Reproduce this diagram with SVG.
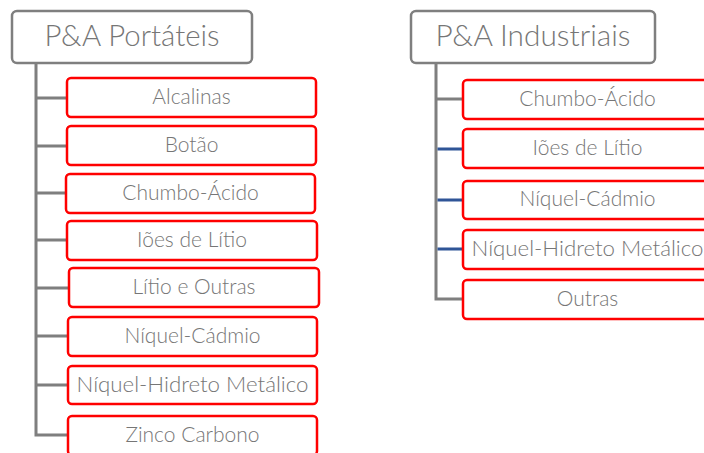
<svg xmlns="http://www.w3.org/2000/svg" width="704" height="453" viewBox="0 0 704 453">
<style>
.hdr rect{fill:#fff;stroke:#7f7f7f;stroke-width:2.5}
.hdr text{font-family:Lato,"Liberation Sans",Arial,sans-serif;font-size:29px;font-weight:300;fill:#767676;text-anchor:middle}
.item rect{fill:#fff;stroke:#ff0000;stroke-width:2.5}
.item text{font-family:Lato,"Liberation Sans",Arial,sans-serif;font-size:21px;font-weight:300;fill:#767676;text-anchor:middle}
.trunk{stroke:#7f7f7f;stroke-width:3;fill:none}
.g{stroke:#7f7f7f;stroke-width:3;fill:none}
.b{stroke:#2f5597;stroke-width:3;fill:none}
</style>
<g id="connectors">
<path class="trunk" d="M36,63 V435 H67"/>
<path class="g" d="M36,98 H67 M36,146 H67 M36,193 H66 M36,240 H67 M36,288 H69 M36,336 H68 M36,385 H68"/>
<path class="trunk" d="M436,63 V299 H463"/>
<path class="g" d="M436,99 H463"/>
<path class="b" d="M437.5,149 H463 M437.5,200 H463 M437.5,249 H463"/>
</g>
<g id="h1" class="hdr"><rect x="12" y="11" width="240" height="52" rx="5"/><text x="132" y="46" textLength="175" lengthAdjust="spacingAndGlyphs">P&amp;A Portáteis</text></g>
<g id="h2" class="hdr"><rect x="411" y="11" width="244" height="52" rx="5"/><text x="533" y="46" textLength="195" lengthAdjust="spacingAndGlyphs">P&amp;A Industriais</text></g>
<g id="l1" class="item"><rect x="67" y="78" width="249" height="39" rx="4"/><text x="191.5" y="104">Alcalinas</text></g>
<g id="l2" class="item"><rect x="67" y="126" width="249" height="39" rx="4"/><text x="191.5" y="152">Botão</text></g>
<g id="l3" class="item"><rect x="66" y="174" width="249" height="39" rx="4"/><text x="190.5" y="200">Chumbo-Ácido</text></g>
<g id="l4" class="item"><rect x="67" y="221" width="250" height="39" rx="4"/><text x="192" y="247">Iões de Lítio</text></g>
<g id="l5" class="item"><rect x="69" y="268" width="250" height="39" rx="4"/><text x="194" y="294">Lítio e Outras</text></g>
<g id="l6" class="item"><rect x="68" y="317" width="249" height="39" rx="4"/><text x="192.5" y="343">Níquel-Cádmio</text></g>
<g id="l7" class="item"><rect x="68" y="366" width="249" height="38" rx="4"/><text x="192.5" y="392" textLength="232" lengthAdjust="spacingAndGlyphs">Níquel-Hidreto Metálico</text></g>
<g id="l8" class="item"><rect x="68" y="416" width="249" height="39" rx="4"/><text x="192.5" y="442">Zinco Carbono</text></g>
<g id="r1" class="item"><rect x="463" y="80" width="249" height="39" rx="4"/><text x="587.5" y="106">Chumbo-Ácido</text></g>
<g id="r2" class="item"><rect x="463" y="129" width="249" height="39" rx="4"/><text x="587.5" y="155">Iões de Lítio</text></g>
<g id="r3" class="item"><rect x="463" y="181" width="249" height="38" rx="4"/><text x="587.5" y="206">Níquel-Cádmio</text></g>
<g id="r4" class="item"><rect x="463" y="230" width="249" height="39" rx="4"/><text x="587.5" y="256" textLength="232" lengthAdjust="spacingAndGlyphs">Níquel-Hidreto Metálico</text></g>
<g id="r5" class="item"><rect x="463" y="280" width="249" height="39" rx="4"/><text x="587.5" y="306">Outras</text></g>
</svg>
